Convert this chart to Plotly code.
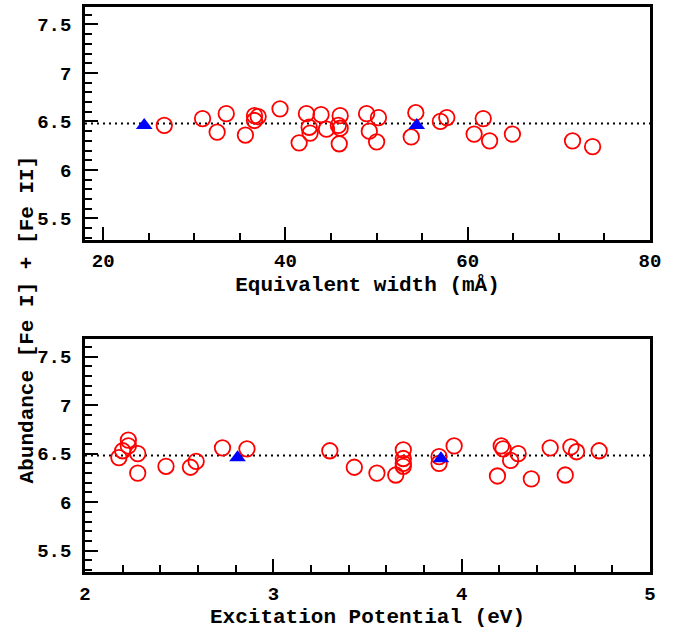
import plotly.graph_objects as go

# ---------------- data ----------------
mean_abund = 6.48

# Fe I lines (circles): equivalent width (mA), abundance
ew_fe1 = [26.7, 30.9, 32.5, 33.5, 35.6, 36.6, 37.0, 36.6, 39.4, 42.3, 42.6, 42.7,
          41.5, 43.9, 44.5, 46.0, 45.8, 46.0, 45.9, 48.9, 50.2, 49.2, 50.0, 54.3,
          53.8, 57.0, 57.7, 61.7, 60.7, 62.4, 64.9, 71.5, 73.7]
ab_fe1_ew = [6.46, 6.53, 6.39, 6.58, 6.36, 6.56, 6.55, 6.51, 6.63, 6.58, 6.44, 6.38,
             6.28, 6.57, 6.42, 6.56, 6.46, 6.43, 6.27, 6.58, 6.54, 6.40, 6.29, 6.59,
             6.34, 6.50, 6.54, 6.53, 6.37, 6.30, 6.37, 6.30, 6.24]

# Fe II lines (triangles)
ew_fe2 = [24.5, 54.4]
ab_fe2_ew = [6.46, 6.46]

# Fe I lines: excitation potential (eV), abundance
ep_fe1 = [2.18, 2.20, 2.23, 2.23, 2.28, 2.28, 2.43, 2.56, 2.59, 2.73, 2.86, 3.30,
          3.43, 3.55, 3.65, 3.69, 3.69, 3.69, 3.69, 3.88, 3.88, 3.96, 4.19, 4.21,
          4.22, 4.30, 4.26, 4.37, 4.47, 4.55, 4.58, 4.61, 4.73]
ab_fe1_ep = [6.46, 6.53, 6.64, 6.58, 6.50, 6.30, 6.37, 6.36, 6.42, 6.56, 6.55, 6.53,
             6.36, 6.30, 6.28, 6.54, 6.45, 6.40, 6.37, 6.47, 6.40, 6.58, 6.27, 6.58,
             6.55, 6.50, 6.43, 6.24, 6.56, 6.28, 6.57, 6.52, 6.53]

ep_fe2 = [2.81, 3.89]
ab_fe2_ep = [6.46, 6.45]

x1_range = [18, 80]
x2_range = [2, 5]
y_range = [5.28, 7.68]

x1_title = "Equivalent width (mÅ)"
x2_title = "Excitation Potential (eV)"
y_title = "Abundance [Fe I] + [Fe II]"

# ---------------- figure ----------------
FONT = "Liberation Mono"
RED = "#ff0000"
BLUE = "#0000ff"

circle = dict(symbol="circle-open", size=15.5, color=RED, line=dict(color=RED, width=1.8))
tri = dict(symbol="triangle-up", size=14.5, color=BLUE, line=dict(width=0))

fig = go.Figure()
fig.add_trace(go.Scatter(x=ew_fe1, y=ab_fe1_ew, mode="markers", marker=circle,
                         xaxis="x", yaxis="y", showlegend=False))
fig.add_trace(go.Scatter(x=ew_fe2, y=ab_fe2_ew, mode="markers", marker=tri,
                         xaxis="x", yaxis="y", showlegend=False))
fig.add_trace(go.Scatter(x=ep_fe1, y=ab_fe1_ep, mode="markers", marker=circle,
                         xaxis="x2", yaxis="y2", showlegend=False))
fig.add_trace(go.Scatter(x=ep_fe2, y=ab_fe2_ep, mode="markers", marker=tri,
                         xaxis="x2", yaxis="y2", showlegend=False))

for xr, yr in (("x domain", "y"), ("x2 domain", "y2")):
    fig.add_shape(type="line", xref=xr, yref=yr, x0=0, x1=1, y0=mean_abund, y1=mean_abund,
                  line=dict(color="black", width=2, dash="2px,4px"), layer="below")

tickfont = dict(family=FONT, size=19, color="black", weight="bold")
titlefont = dict(family=FONT, size=21, color="black", weight="bold")

def xaxis(rng, dtick, minor, title, anchor, domain=None):
    return dict(range=rng, dtick=dtick, tick0=rng[0] if dtick == 1 else 20,
                showgrid=False, zeroline=False, showline=True, mirror=True,
                linecolor="black", linewidth=2.5, ticks="inside", ticklen=13,
                tickwidth=2, tickcolor="black", tickfont=tickfont,
                ticklabelstandoff=2,
                minor=dict(dtick=minor, ticks="inside", ticklen=7, tickwidth=2,
                           tickcolor="black", showgrid=False),
                title=dict(text=title, font=titlefont, standoff=4), anchor=anchor)

def yaxis(domain, anchor):
    return dict(range=y_range, domain=domain, dtick=0.5, tick0=5.5,
                showgrid=False, zeroline=False, showline=True, mirror=True,
                linecolor="black", linewidth=2.5, ticks="inside", ticklen=13,
                tickwidth=2, tickcolor="black", tickfont=tickfont,
                ticklabelstandoff=7,
                minor=dict(dtick=0.1, ticks="inside", ticklen=7, tickwidth=2,
                           tickcolor="black", showgrid=False),
                anchor=anchor)

fig.update_layout(
    width=691, height=633,
    margin=dict(l=85, r=41, t=4, b=61),
    paper_bgcolor="white", plot_bgcolor="white",
    xaxis=xaxis(x1_range, 20, 5, x1_title, "y"),
    xaxis2=xaxis(x2_range, 1, 0.2, x2_title, "y2"),
    yaxis=yaxis([0.588, 1.0], "x"),
    yaxis2=yaxis([0.0, 0.412], "x2"),
    annotations=[dict(text=y_title, xref="paper", yref="paper", x=-0.101, y=0.447,
                      textangle=-90, showarrow=False, font=titlefont,
                      xanchor="center", yanchor="middle")],
)

fig.write_html("out.html")
